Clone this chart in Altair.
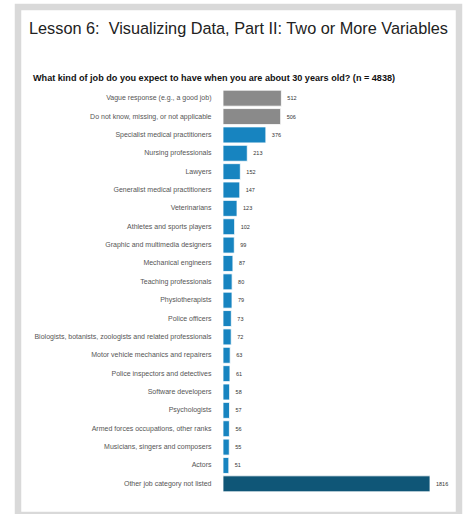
import altair as alt
import pandas as pd

categories = [
    "Vague response (e.g., a good job)",
    "Do not know, missing, or not applicable",
    "Specialist medical practitioners",
    "Nursing professionals",
    "Lawyers",
    "Generalist medical practitioners",
    "Veterinarians",
    "Athletes and sports players",
    "Graphic and multimedia designers",
    "Mechanical engineers",
    "Teaching professionals",
    "Physiotherapists",
    "Police officers",
    "Biologists, botanists, zoologists and related professionals",
    "Motor vehicle mechanics and repairers",
    "Police inspectors and detectives",
    "Software developers",
    "Psychologists",
    "Armed forces occupations, other ranks",
    "Musicians, singers and composers",
    "Actors",
    "Other job category not listed",
]
counts = [512, 506, 376, 213, 152, 147, 123, 102, 99, 87, 80, 79, 73, 72,
          63, 61, 58, 57, 56, 55, 51, 1816]
groups = ["nonresponse", "nonresponse"] + ["listed"] * 19 + ["other"]

df = pd.DataFrame({"job": categories, "n": counts, "group": groups})

title_text = "Lesson 6:\u00a0 Visualizing Data, Part II: Two or More Variables"
subtitle_text = "What kind of job do you expect to have when you are about 30 years old? (n = 4838)"

FONT = "Liberation Sans"

ybase = alt.Y("job:N", sort=categories, title=None,
              scale=alt.Scale(paddingInner=0.13, paddingOuter=0.065),
              axis=alt.Axis(labelFont=FONT, labelFontSize=7, labelColor="#555555",
                            ticks=False, domain=False, labelPadding=12, labelLimit=300))
xbase = alt.X("n:Q", title=None, axis=None,
              scale=alt.Scale(domain=[0, 1816], nice=False, zero=True))

bars = alt.Chart(df).mark_bar(stroke="#ffffff", strokeWidth=0.8).encode(
    y=ybase,
    x=xbase,
    color=alt.Color("group:N", legend=None,
                    scale=alt.Scale(domain=["nonresponse", "listed", "other"],
                                    range=["#8a8a8a", "#1784c0", "#0f5677"])),
)

labels = alt.Chart(df).mark_text(align="left", baseline="middle", dx=6,
                                 font=FONT, fontSize=5.5, color="#333333").encode(
    y=alt.Y("job:N", sort=categories),
    x=alt.X("n:Q"),
    text=alt.Text("n:Q"),
)

single = pd.DataFrame({"f": [0]})

frame = alt.Chart(single).mark_rect(
    fill="transparent", stroke="#d9d9d9", strokeWidth=6.5
).encode(
    x=alt.value(-205), x2=alt.value(236),
    y=alt.value(-82), y2=alt.value(426),
)

title_mark = alt.Chart(single).mark_text(
    align="left", baseline="alphabetic", font=FONT, fontSize=16.3,
    color="#222222", text=title_text
).encode(x=alt.value(-194), y=alt.value(-55))

subtitle_mark = alt.Chart(single).mark_text(
    align="left", baseline="alphabetic", font=FONT, fontSize=9.1,
    fontWeight="bold", color="#111111", text=subtitle_text
).encode(x=alt.value(-190), y=alt.value(-8))

chart = alt.layer(frame, title_mark, subtitle_mark, bars, labels).properties(
    width=207,
    height=404,
    background="#ffffff",
    padding={"left": 223, "top": 89, "right": 36, "bottom": 21},
    autosize=alt.AutoSizeParams(type="none"),
).configure_view(strokeWidth=0, stroke=None)

chart.save("out.html", embed_options={"renderer": "svg", "actions": False})
